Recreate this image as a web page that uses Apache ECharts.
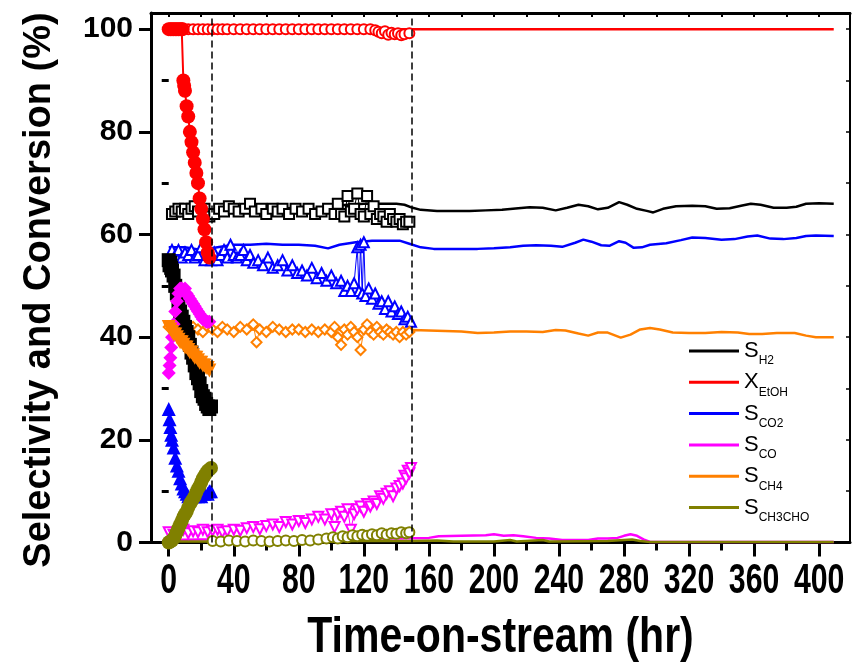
<!DOCTYPE html>
<html>
<head>
<meta charset="utf-8">
<script src="https://cdn.jsdelivr.net/npm/echarts@6/dist/echarts.min.js"></script>
<style>
  html, body { margin: 0; padding: 0; background: #fff; }
  #chart { width: 852px; height: 664px; }
</style>
</head>
<body>
<div id="chart"></div>
<script>
// axis ticks
const xTicks = [0, 40, 80, 120, 160, 200, 240, 280, 320, 360, 400]
const xMinor = [20, 60, 100, 140, 180, 220, 260, 300, 340, 380]
const yTicks = [0, 20, 40, 60, 80, 100]
const yMinor = [10, 30, 50, 70, 90]
const stageBreaks = [26.5, 149.5]

// legend
const names = ['H2', 'EtOH', 'CO2', 'CO', 'CH4', 'CH3CHO']
const letters = { H2: 'S', EtOH: 'X', CO2: 'S', CO: 'S', CH4: 'S', CH3CHO: 'S' }
const xTitle = 'Time-on-stream (hr)'
const yTitle = 'Selectivity and Conversion (%)'

// continuous lines, 0-410 hr
const h2Line = [[0,64.5],[10,64],[20,63.8],[30,64.5],[40,65],[50,64.8],[60,65.2],[70,65],[80,65.3],[90,65],[100,65.5],[110,65.8],[120,66],[130,66],[140,66],[145,65.8],[150,65.2],[155,64.8],[165,64.6],[175,64.6],[185,64.6],[195,64.7],[205,64.8],[215,65.1],[222,65.3],[230,65.2],[238,64.7],[245,65.2],[252,65.8],[258,65.5],[264,64.9],[270,65.2],[277,66.3],[282,65.8],[288,65],[294,64.6],[298,64.3],[304,65],[312,65.5],[322,65.6],[330,65.5],[337,65],[345,65.1],[352,65.6],[358,66],[364,65.8],[372,65.2],[380,65.2],[386,65.4],[392,66],[400,66.1],[409,66]]
const etohLine = [[0,100],[150,100],[250,100],[350,100],[409,100]]
const co2Line = [[0,57.5],[10,57.5],[20,57],[30,57.5],[40,58],[50,58],[60,58.2],[70,58],[80,58],[90,57.8],[98,57.3],[105,58],[115,58.5],[125,58.8],[135,58.8],[142,58.8],[148,58.2],[155,57.5],[163,57.2],[175,57.2],[190,57.2],[200,57.3],[210,57.5],[218,57.8],[226,57.9],[235,57.8],[242,57.6],[250,58.4],[255,59],[260,58.6],[266,57.9],[271,57.8],[277,58.7],[281,58.4],[286,57.4],[291,57.5],[296,58],[306,58.3],[315,58.9],[322,59.4],[330,59.3],[340,59],[348,59.1],[356,59.6],[362,59.8],[370,59.2],[378,59.1],[386,59.3],[392,59.7],[398,59.8],[409,59.7]]
const coLine = [[0,0.5],[20,0.6],[40,0.6],[60,0.7],[80,0.7],[100,0.8],[120,0.8],[140,0.8],[160,0.9],[166,1.2],[180,1.3],[195,1.4],[200,1.6],[206,1.3],[212,1.4],[218,1.2],[226,0.9],[234,0.8],[242,0.5],[250,0.5],[258,0.5],[264,0.8],[270,0.8],[276,0.9],[280,1.3],[284,1.6],[288,1.3],[292,0.6],[296,0.1],[320,0.1],[360,0.1],[409,0.1]]
const ch4Line = [[0,42],[10,41.8],[20,41.5],[30,41.6],[40,41.5],[50,41.5],[60,41.4],[70,41.5],[80,41.6],[90,41.5],[100,41.6],[110,41.4],[120,41.5],[130,41.3],[140,41.2],[150,41.4],[160,41.3],[170,41.2],[180,41.1],[190,40.8],[200,40.9],[210,41.1],[220,41.1],[230,41],[238,41.4],[244,41.3],[252,40.7],[258,40.3],[264,40.9],[270,40.9],[278,39.9],[284,40.5],[290,41.5],[296,41.8],[302,41.5],[310,40.9],[320,40.8],[330,40.8],[340,41],[350,40.9],[357,40.6],[365,40.6],[374,40.8],[385,40.8],[392,40.3],[398,40],[409,40]]
const ch3choLine = [[0,0.2],[40,0.2],[80,0.2],[120,0.3],[150,0.3],[165,0.4],[175,0.2],[200,0.2],[210,0.5],[214,0.2],[230,0.5],[234,0.2],[270,0.3],[285,0.6],[290,0.3],[296,0.1],[409,0.1]]

// first stage, filled markers
const h2Early = [[0,55],[0.5,54],[1,54.5],[1.5,53.5],[2,53],[3,52],[4,50],[5,48.5],[6,47],[7,45],[8,44],[9,43],[10,42],[11,41],[12,40],[13,38.5],[14,37],[15,36],[16,34.5],[17,33],[18,32],[19,31],[20,29.5],[21,28.5],[22,28],[23,27],[24,26.5],[25,26],[26,26.5]]
const etohEarly = [[0,100],[1,100],[2,100],[3,100],[4,100],[5,100],[6,100],[7,100],[8,100],[8.5,100],[9,90],[9.5,89],[10,88],[11,85],[12,83],[13,80],[14,78],[15,76],[16,74],[17,72],[18,70],[19,67],[20,65],[21,63],[22,61],[23,58.5],[24,56.5],[25,55.5]]
const co2Early = [[0,26],[0.5,24],[1,22.5],[1.5,21],[2,20],[3,18.5],[4,16.5],[5,15],[6,14],[7,12.5],[8,11.5],[9,10.5],[10,10],[11,9.5],[12,9],[14,9],[16,9],[18,9],[20,9],[22,9.5],[24,9.5],[25,10],[26,10]]
const coEarly = [[0,33],[0.5,34.5],[1,36],[1.5,38],[2,40],[3,42.5],[4,45],[5,47],[6,48.5],[7,49.5],[8,49.5],[9,49],[10,49.5],[11,48.5],[12,48],[13,47.5],[14,47],[15,46.5],[16,46],[17,45.5],[18,45],[19,44.5],[20,44],[21,43.5],[22,43.5],[23,43],[24,43],[25,43]]
const ch4Early = [[0,42],[1,41.5],[2,41],[3,40.5],[4,40.5],[5,40],[6,39.5],[7,39],[8,39],[9,38.5],[10,38],[11,38],[12,37.5],[13,37],[14,37],[15,36.5],[16,36],[17,36],[18,35.5],[19,35],[20,35],[21,34.5],[22,34.5],[23,34],[24,34],[25,33.5]]
const ch3choEarly = [[0,0],[1,0.2],[2,0.4],[3,0.8],[4,1.3],[5,2],[6,2.8],[7,3.5],[8,4.2],[9,5],[10,5.5],[11,6],[12,6.8],[13,7.5],[14,8],[15,8.5],[16,9],[17,9.8],[18,10.5],[19,11],[20,11.8],[21,12.5],[22,13],[23,13.5],[24,14],[25,14.2],[26,14.5]]

// second stage, open markers
const h2Mid = [[2,64],[4,64.5],[6,65],[8,64.5],[10,65],[12,64],[14,65],[16,65.5],[18,64.5],[22,65],[25,63.5],[28,64],[31,65],[34,64.5],[37,65.5],[40,65],[43,64.5],[47,65],[50,66],[53,64.5],[57,65],[60,64],[64,65],[67,64.5],[70,65],[74,64],[78,65],[82,64.5],[86,65],[90,64],[94,64.5],[98,65],[102,64],[104,66],[106,64],[108,63.5],[110,67.5],[112,64.5],[114,65],[116,68],[118,64],[120,63.5],[122,67.5],[124,64],[126,65.5],[128,63],[130,64],[132,63.5],[134,62.5],[136,64],[138,63],[140,62.5],[142,63],[144,62],[146,62.5],[148,62.5]]
const etohMid = [[12,100],[15,100],[18,100],[21,100],[24,100],[27,100],[30,100],[33,100],[36,100],[40,100],[44,100],[48,100],[52,100],[56,100],[60,100],[64,100],[68,100],[72,100],[76,100],[80,100],[84,100],[88,100],[92,100],[96,100],[100,100],[104,100],[108,100],[112,100],[116,100],[120,100],[124,100],[127,99.8],[129,99.5],[131,99.2],[133,99.6],[135,98.9],[137,99.3],[139,99],[141,99.2],[143,98.8],[145,99],[148,99.2]]
const co2Mid = [[2,57],[4,56],[6,57],[8,55.5],[10,56.5],[12,56],[14,57],[16,55.5],[18,56],[20,57.5],[22,55],[24,56],[26,55],[28,56.5],[30,55],[32,56],[34,57],[36,55.5],[38,58],[40,56],[42,55.5],[44,56],[46,57],[48,55],[50,56],[52,54.5],[55,55],[58,54],[61,55.5],[64,53.5],[67,54],[70,55],[73,53],[76,54],[79,52.5],[82,53],[85,52],[88,53.5],[91,51.5],[94,52.5],[97,51],[100,52],[103,50.5],[106,51],[108,49],[110,50],[112,49],[114,50.5],[116,57.5],[117,49],[118,58],[119,48.5],[120,58.5],[121,48],[123,49.5],[125,47.5],[127,48.5],[129,46.5],[131,47],[133,45.5],[135,47],[137,45],[139,46],[141,44.5],[143,45],[145,43.5],[147,44],[149,43]]
const coMid = [[0,2],[3,1.5],[6,2],[9,2.5],[12,1.8],[15,2.2],[18,2],[21,2.5],[24,2],[27,2.3],[30,2.5],[33,2],[36,2.2],[40,2.5],[44,2.3],[48,2.8],[52,3],[56,2.6],[60,3.2],[64,3.5],[68,3],[72,4],[76,3.5],[80,4.2],[84,3.8],[88,4.5],[92,5],[96,4.5],[100,5.5],[102,3],[104,5.5],[106,6],[108,5],[110,6.5],[112,2.5],[114,5.5],[116,6.5],[118,7],[120,6],[122,7.5],[124,7],[126,8],[128,7.5],[130,9],[132,8.5],[134,9.5],[136,10],[138,9],[140,10.5],[142,11],[144,11.5],[145,13],[146,12.5],[147,14],[148,13.5],[149,14.5]]
const ch4Mid = [[0,42],[3,41.5],[6,42],[9,41.5],[12,41],[15,42],[18,41.5],[21,41],[24,42],[27,41.5],[30,41],[33,42],[36,41.5],[40,41],[44,42],[48,41.5],[52,42.5],[54,39],[56,41.5],[60,41],[64,42],[68,41.5],[72,41],[76,41.5],[80,41.5],[84,41],[88,41.5],[92,41],[96,41.5],[100,41],[102,42],[104,40],[106,38.5],[108,41.5],[110,40.5],[112,42],[114,41],[116,40],[118,37.5],[120,41.5],[122,42.5],[124,41],[126,40.5],[128,42],[130,41],[132,40.5],[134,41.5],[136,41],[138,40.5],[140,41],[142,40],[144,41],[146,40.5],[148,41]]
const ch3choMid = [[27,0.3],[32,0.2],[37,0.4],[42,0.3],[47,0.2],[52,0.4],[57,0.3],[62,0.2],[67,0.3],[72,0.4],[77,0.3],[82,0.5],[87,0.4],[92,0.6],[97,0.8],[101,1],[104,0.8],[107,1.2],[110,1],[113,1.4],[116,1.2],[119,1.5],[122,1.3],[125,1.6],[128,1.4],[131,1.8],[134,1.5],[137,1.8],[140,1.7],[143,2],[146,1.8],[148,2]]

const colors = { H2: '#000000', EtOH: '#ff0000', CO2: '#0000ff', CO: '#ff00ff', CH4: '#ff8000', CH3CHO: '#808000' }
const lines = { H2: h2Line, EtOH: etohLine, CO2: co2Line, CO: coLine, CH4: ch4Line, CH3CHO: ch3choLine }
const early = { H2: h2Early, EtOH: etohEarly, CO2: co2Early, CO: coEarly, CH4: ch4Early, CH3CHO: ch3choEarly }
const mid = { H2: h2Mid, EtOH: etohMid, CO2: co2Mid, CO: coMid, CH4: ch4Mid, CH3CHO: ch3choMid }
const earlySymbol = { H2: ['rect', 0], EtOH: ['circle', 0], CO2: ['triangle', 0], CO: ['diamond', 0], CH4: ['triangle', 180], CH3CHO: ['circle', 0] }
const midSymbol = { H2: ['emptyRect', 0], EtOH: ['emptyCircle', 0], CO2: ['emptyTriangle', 0], CO: ['emptyTriangle', 180], CH4: ['emptyDiamond', 0], CH3CHO: ['emptyCircle', 0] }

const boldFont = "'Liberation Sans', Arial, sans-serif"

const series = []
names.forEach(n => {
    series.push({
        type: 'line', name: n, data: lines[n], color: colors[n],
        symbol: 'none', lineStyle: { width: 2.5, color: colors[n] }, z: 2
    })
})
names.forEach(n => {
    series.push({
        type: 'line', name: n + ' stage2', data: mid[n], color: colors[n],
        symbol: midSymbol[n][0], symbolRotate: midSymbol[n][1], symbolSize: 10,
        itemStyle: { borderWidth: 1 },
        lineStyle: { width: 1, color: colors[n] }, z: 3
    })
})
names.forEach(n => {
    series.push({
        type: 'line', name: n + ' stage1', data: early[n], color: colors[n],
        symbol: earlySymbol[n][0], symbolRotate: earlySymbol[n][1], symbolSize: 14,
        lineStyle: { width: 2, color: colors[n] }, z: 4
    })
})
series[0].markLine = {
    symbol: 'none', silent: true, label: { show: false },
    lineStyle: { type: [7, 4], color: '#000', width: 1.5 },
    data: stageBreaks.map(v => ({ xAxis: v }))
}

const option = {
    animation: false,
    backgroundColor: '#fff',
    grid: { left: 151, right: 2, top: 13, bottom: 121.5, containLabel: false, outerBoundsMode: 'none' },
    legend: {
        data: names, orient: 'vertical', left: 689, top: 335, padding: 0,
        itemWidth: 50, itemHeight: 3, itemGap: -0.7, icon: 'rect', selectedMode: false,
        formatter: n => '{m|' + letters[n] + '}{s|' + n + '}',
        textStyle: {
            rich: {
                m: { fontSize: 22, fontFamily: boldFont, color: '#000', lineHeight: 24 },
                s: { fontSize: 12, fontFamily: boldFont, color: '#000', lineHeight: 14, padding: [20, 0, 0, 0] }
            }
        }
    },
    xAxis: [
        {
            type: 'value', position: 'bottom', min: -10.9, max: 419,
            axisLine: { onZero: false, lineStyle: { color: '#000', width: 3 } },
            axisTick: { customValues: xTicks, length: 14, lineStyle: { color: '#000', width: 3 } },
            axisLabel: { show: false },
            splitLine: { show: false }
        },
        {
            type: 'value', position: 'bottom', min: -10.9, max: 419,
            axisLine: { show: false },
            axisTick: { customValues: xMinor, length: 8, lineStyle: { color: '#000', width: 3 } },
            axisLabel: { show: false }, splitLine: { show: false }
        },
        {
            type: 'value', position: 'top', min: -10.9, max: 419,
            axisLine: { onZero: false, lineStyle: { color: '#000', width: 3 } },
            axisTick: { inside: true, customValues: xTicks.concat(xMinor), length: 4, lineStyle: { color: '#000', width: 2 } },
            axisLabel: { show: false }, splitLine: { show: false }
        }
    ],
    yAxis: [
        {
            type: 'value', position: 'left', min: 0, max: 103.15,
            axisLine: { onZero: false, lineStyle: { color: '#000', width: 3 } },
            axisTick: { customValues: yTicks, length: 12, lineStyle: { color: '#000', width: 3 } },
            axisLabel: { customValues: yTicks, fontSize: 30, fontWeight: 'bold', fontFamily: boldFont, color: '#000', margin: 18 },
            splitLine: { show: false }
        },
        {
            type: 'value', position: 'left', min: 0, max: 103.15,
            axisLine: { show: false },
            axisTick: { customValues: yMinor, length: 7, lineStyle: { color: '#000', width: 3 } },
            axisLabel: { show: false }, splitLine: { show: false }
        },
        {
            type: 'value', position: 'right', min: 0, max: 103.15,
            axisLine: { onZero: false, lineStyle: { color: '#000', width: 2 } },
            axisTick: { inside: true, customValues: yTicks.concat(yMinor), length: 4, lineStyle: { color: '#000', width: 1.5 } },
            axisLabel: { show: false }, splitLine: { show: false }
        }
    ],
    series: series
}

const chart = echarts.init(document.getElementById('chart'), null, { renderer: 'canvas' })
chart.setOption(option)

// the x labels and titles are condensed in the original, so draw them as scaled text
const axisY = chart.convertToPixel({ yAxisIndex: 0 }, 0)
const gridMid = (chart.convertToPixel({ xAxisIndex: 0 }, -10.9) + chart.convertToPixel({ xAxisIndex: 0 }, 419)) / 2
const textEl = (text, x, y, size, sx, rot) => ({
    type: 'text', x: x, y: y, scaleX: sx, rotation: rot || 0, silent: true,
    style: {
        text: text, font: 'bold ' + size + 'px ' + boldFont, fill: '#000',
        align: 'center', verticalAlign: 'middle', textAlign: 'center', textVerticalAlign: 'middle'
    }
})
const graphics = xTicks.map(v => textEl(String(v), chart.convertToPixel({ xAxisIndex: 0 }, v), axisY + 38.5, 42, 0.72))
graphics.push(textEl(xTitle, gridMid, axisY + 96, 50, 0.82))
graphics.push(textEl(yTitle, 40, 290, 38, 1, Math.PI / 2))
chart.setOption({ graphic: graphics })
</script>
</body>
</html>
